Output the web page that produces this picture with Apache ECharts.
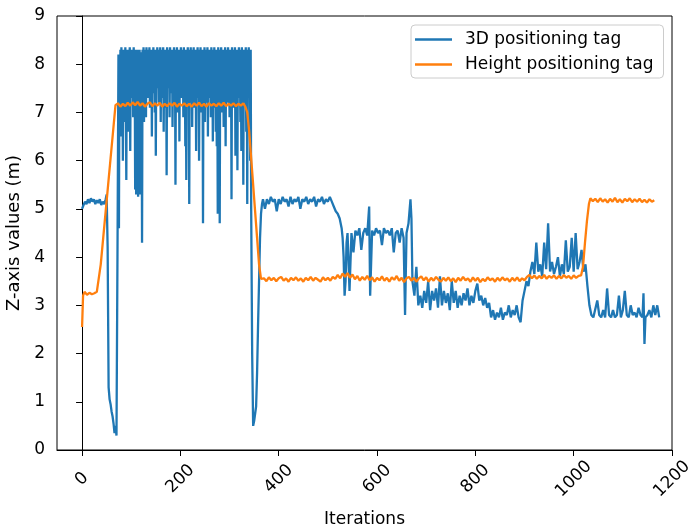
<!DOCTYPE html>
<html>
<head>
<meta charset="utf-8">
<script src="https://cdn.jsdelivr.net/npm/echarts@6/dist/echarts.min.js"></script>
<style>
  html, body { margin: 0; padding: 0; background: #fff; }
  #chart { width: 689px; height: 526px; }
</style>
</head>
<body>
<div id="chart"></div>
<script>
// series names
const seriesNames = ["3D positioning tag", "Height positioning tag"];

// x tick labels
const xTicks = [0, 200, 400, 600, 800, 1000, 1200];

// 3D positioning tag: [iteration, z]
const tag3d = [
  [0,5.0],[3,5.08],[6,5.15],[9,5.1],[12,5.2],[15,5.12],[18,5.22],[21,5.15],[24,5.2],[27,5.1],
  [30,5.18],[33,5.12],[36,5.2],[39,5.08],[42,5.15],[45,5.1],[48,5.2],[50,5.3],[52,4.2],[54,1.3],
  [56,1.05],[58,0.95],[60,0.8],[62,0.7],[64,0.55],[66,0.35],[68,0.5],[70,0.3],[72,4.0],[74,8.2],
  [75,4.6],[76,8.2],[77,7.0],[78,8.3],[79,6.5],[80,8.35],[81,7.6],[82,8.2],[83,6.0],[84,8.3],
  [85,7.4],[86,8.25],[87,6.8],[88,8.35],[89,7.2],[90,5.6],[91,8.3],[92,7.5],[93,8.2],[94,6.6],
  [95,8.3],[96,7.8],[97,8.35],[98,6.2],[99,8.3],[100,7.3],[101,8.25],[102,7.9],[103,8.3],[104,6.9],
  [105,8.35],[106,7.5],[107,8.2],[108,5.4],[109,8.3],[110,5.3],[111,8.1],[112,5.5],[113,8.3],[114,5.25],
  [115,7.9],[116,5.4],[117,8.3],[118,5.3],[119,7.8],[120,5.6],[121,8.25],[122,4.3],[123,8.3],[124,7.2],
  [125,8.35],[126,6.8],[127,8.2],[128,7.5],[129,8.3],[130,6.9],[131,8.35],[132,7.7],[133,8.25],[134,7.3],
  [135,8.3],[136,7.9],[137,8.35],[138,7.1],[139,8.3],[140,7.6],[141,8.2],[142,6.5],[143,8.3],[144,7.4],
  [145,8.35],[146,7.8],[147,8.25],[148,7.0],[149,8.3],[150,6.1],[151,8.3],[152,7.5],[153,8.35],[154,7.8],
  [155,8.2],[156,7.2],[157,8.3],[158,7.6],[159,8.35],[160,6.8],[161,8.25],[162,7.9],[163,8.3],[164,7.3],
  [165,8.35],[166,6.6],[167,8.2],[168,7.7],[169,8.3],[170,7.1],[171,8.3],[172,5.7],[173,8.35],[174,7.5],
  [175,8.25],[176,7.9],[177,8.3],[178,6.9],[179,8.35],[180,7.4],[181,8.2],[182,7.8],[183,8.3],[184,6.7],
  [185,8.3],[186,7.6],[187,8.35],[188,7.2],[189,8.25],[190,5.5],[191,8.3],[192,7.8],[193,8.35],[194,7.0],
  [195,8.2],[196,7.5],[197,8.3],[198,6.4],[199,8.3],[200,7.7],[201,8.35],[202,7.3],[203,8.25],[204,7.9],
  [205,8.3],[206,6.9],[207,8.35],[208,7.5],[209,8.2],[210,6.3],[211,8.3],[212,5.6],[213,8.3],[214,7.4],
  [215,8.35],[216,7.8],[217,8.2],[218,5.1],[219,8.3],[220,7.2],[221,8.35],[222,7.6],[223,8.25],[224,6.7],
  [225,8.3],[226,7.9],[227,8.35],[228,7.1],[229,8.2],[230,7.5],[231,8.3],[232,6.2],[233,8.3],[234,7.7],
  [235,8.35],[236,7.3],[237,8.25],[238,6.0],[239,8.3],[240,7.6],[241,8.35],[242,7.0],[243,8.2],[244,7.8],
  [245,8.3],[246,4.7],[247,8.3],[248,7.4],[249,8.35],[250,6.8],[251,8.25],[252,7.7],[253,8.3],[254,7.2],
  [255,8.35],[256,6.5],[257,8.2],[258,7.9],[259,8.3],[260,7.3],[261,8.3],[262,6.9],[263,8.35],[264,7.6],
  [265,8.25],[266,6.4],[267,8.3],[268,7.8],[269,8.35],[270,7.1],[271,8.2],[272,6.6],[273,8.3],[274,6.3],
  [275,8.3],[276,4.9],[277,8.35],[278,7.4],[279,8.25],[280,4.7],[281,8.3],[282,7.7],[283,8.35],[284,7.0],
  [285,8.2],[286,7.8],[287,8.3],[288,6.7],[289,8.3],[290,7.5],[291,8.35],[292,6.3],[293,8.25],[294,7.9],
  [295,8.3],[296,7.2],[297,8.35],[298,7.6],[299,8.2],[300,6.9],[301,8.3],[302,7.4],[303,8.3],[304,5.2],
  [305,8.35],[306,7.8],[307,8.25],[308,7.1],[309,8.3],[310,7.5],[311,8.35],[312,6.1],[313,8.2],[314,7.7],
  [315,8.3],[316,5.8],[317,8.3],[318,7.3],[319,8.35],[320,7.9],[321,8.25],[322,6.8],[323,8.3],[324,6.2],
  [325,8.35],[326,7.6],[327,8.2],[328,5.5],[329,8.3],[330,7.2],[331,8.3],[332,7.8],[333,8.35],[334,6.6],
  [335,8.25],[336,5.1],[337,8.3],[338,7.5],[339,8.35],[340,7.9],[341,8.2],[342,6.0],[343,8.3],[344,5.0],
  [346,2.0],[348,0.5],[350,0.6],[352,0.75],[354,0.9],[356,1.6],[358,2.6],[360,3.5],[362,4.4],[364,4.9],
  [366,5.1],
  [368,5.2],[372,5.0],[376,5.2],[380,5.1],[384,5.25],[388,5.15],[392,5.2],[396,4.95],[400,5.2],[404,5.1],
  [408,5.25],[412,5.15],[416,5.2],[420,5.05],[424,5.25],[428,5.1],[432,5.2],[436,5.15],[440,5.25],[444,5.0],
  [448,5.2],[452,5.15],[456,5.25],[460,5.1],[464,5.2],[468,5.15],[472,5.25],[476,5.05],[480,5.2],[484,5.15],
  [488,5.25],[492,5.1],[496,5.2],[500,5.15],[504,5.25],[508,5.15],[512,5.05],[516,4.95],[520,4.9],[524,4.8],
  [528,4.6],[530,4.4],[532,4.0],[534,3.2],[536,3.5],[538,4.3],[540,4.5],[544,3.3],[548,4.5],[552,4.1],
  [556,4.55],[560,4.45],[564,4.6],[568,4.15],[572,4.5],[576,4.6],[580,4.45],[584,5.05],[586,3.2],[590,4.55],
  [594,4.45],[598,4.6],[602,4.5],[606,4.55],[610,4.25],[614,4.6],[618,4.5],[622,4.55],[626,4.45],[630,4.6],
  [634,4.1],[638,4.5],[642,4.55],[646,4.3],[650,4.6],[654,4.4],[657,2.8],[660,4.5],[664,4.7],[668,5.2],
  [670,4.8],[672,3.5],[676,3.2],[680,3.8],[684,3.0],[688,3.2],[692,2.95],[696,3.3],[700,3.05],[704,3.5],
  [708,2.9],[712,3.3],[716,3.1],[720,3.35],[724,2.95],[728,3.6],[732,3.0],[736,3.3],[740,3.05],[744,3.25],
  [748,2.9],[752,3.5],[756,3.05],[760,3.3],[764,2.95],[768,3.2],[772,3.0],[776,3.25],[780,3.1],[784,3.35],
  [788,3.0],[792,3.2],[796,3.05],[800,3.3],[804,3.45],[808,3.1],[812,3.2],[816,3.0],[820,3.15],[824,2.95],
  [828,3.05],[832,2.75],[836,2.9],[840,2.7],[844,2.85],[848,2.75],[852,2.95],[856,2.7],[860,2.85],[864,2.8],
  [868,3.0],[872,2.75],[876,2.9],[880,2.8],[884,3.0],[888,2.75],[892,2.65],[896,3.1],[900,3.3],[904,3.5],
  [908,3.4],[912,3.7],[916,3.9],[920,3.65],[924,4.3],[928,3.7],[932,3.85],[936,3.6],[940,4.3],[944,3.75],
  [948,4.7],[952,3.7],[956,3.9],[960,3.65],[964,3.8],[968,4.0],[972,3.6],[976,3.85],[980,3.65],[984,4.35],
  [988,3.7],[992,3.8],[996,4.4],[1000,3.7],[1004,4.5],[1008,3.75],[1012,3.9],[1016,4.15],[1020,3.7],[1024,3.85],
  [1028,3.4],[1032,3.0],[1036,2.8],[1040,2.75],[1044,2.75],[1048,3.1],[1052,2.8],[1056,2.75],[1060,2.9],[1064,2.75],
  [1068,3.35],[1072,2.8],[1076,2.75],[1080,2.9],[1084,2.75],[1088,2.8],[1092,3.2],[1096,2.75],[1100,2.9],[1104,3.3],
  [1108,2.8],[1112,2.75],[1116,3.0],[1120,2.8],[1124,2.85],[1128,2.75],[1132,2.95],[1136,2.8],[1140,2.75],[1142,3.25],
  [1144,2.2],[1146,2.75],[1150,2.8],[1154,2.9],[1158,2.75],[1162,3.0],[1166,2.8],[1170,3.0],[1174,2.75]
];

// Height positioning tag: [iteration, z]
const tagHeight = [
  [0,2.55],[2,3.2],[5,3.28],[10,3.22],[15,3.26],[20,3.23],[25,3.25],[30,3.28],[33,3.3],[38,3.85],
  [43,4.4],[48,4.95],[53,5.5],[58,6.05],[63,6.6],[68,7.15],
  [73,7.19],[78,7.12],[83,7.18],[88,7.13],[93,7.2],[98,7.14],[103,7.21],[108,7.15],[113,7.22],[118,7.14],
  [123,7.19],[128,7.12],[133,7.18],[138,7.21],[143,7.13],[148,7.19],[153,7.14],[158,7.2],[163,7.12],[168,7.18],
  [173,7.13],[178,7.19],[183,7.14],[188,7.2],[193,7.12],[198,7.18],[203,7.14],[208,7.19],[213,7.13],[218,7.18],
  [223,7.12],[228,7.19],[233,7.14],[238,7.2],[243,7.13],[248,7.18],[253,7.12],[258,7.19],[263,7.14],[268,7.18],
  [273,7.13],[278,7.19],[283,7.14],[288,7.2],[293,7.13],[298,7.18],[303,7.14],[308,7.19],[313,7.13],[318,7.18],
  [323,7.14],[328,7.19],[332,7.12],[336,7.0],[340,6.6],[344,6.05],[348,5.5],[352,4.95],[356,4.4],[360,3.85],
  [364,3.55],
  [370,3.56],[375,3.5],[380,3.58],[385,3.52],[390,3.57],[395,3.5],[400,3.56],[405,3.59],[410,3.51],[415,3.56],
  [420,3.49],[425,3.57],[430,3.52],[435,3.58],[440,3.51],[445,3.56],[450,3.49],[455,3.57],[460,3.52],[465,3.59],
  [470,3.51],[475,3.57],[480,3.53],[485,3.49],[490,3.58],[495,3.52],[500,3.57],[505,3.51],[510,3.59],[515,3.55],
  [520,3.63],[525,3.56],[530,3.66],[535,3.59],[540,3.67],[545,3.57],[550,3.64],[555,3.54],[560,3.61],[565,3.51],
  [570,3.59],[575,3.53],[580,3.61],[585,3.52],[590,3.58],[595,3.49],[600,3.57],[605,3.52],[610,3.6],[615,3.51],
  [620,3.57],[625,3.49],[630,3.58],[635,3.53],[640,3.61],[645,3.51],[650,3.57],[655,3.48],[660,3.56],[665,3.59],
  [670,3.51],[675,3.57],[680,3.49],[685,3.56],[690,3.6],[695,3.52],[700,3.58],[705,3.49],[710,3.57],[715,3.51],
  [720,3.59],[725,3.53],[730,3.49],[735,3.57],[740,3.51],[745,3.58],[750,3.5],[755,3.56],[760,3.48],[765,3.57],
  [770,3.51],[775,3.59],[780,3.52],[785,3.56],[790,3.49],[795,3.58],[800,3.51],[805,3.57],[810,3.48],[815,3.55],
  [820,3.5],[825,3.58],[830,3.52],[835,3.56],[840,3.49],[845,3.57],[850,3.51],[855,3.58],[860,3.52],[865,3.56],
  [870,3.49],[875,3.57],[880,3.51],[885,3.58],[890,3.5],[895,3.56],[900,3.52],[905,3.59],[910,3.63],[915,3.56],
  [920,3.62],[925,3.55],[930,3.61],[935,3.56],[940,3.63],[945,3.55],[950,3.61],[955,3.57],[960,3.62],[965,3.55],
  [970,3.61],[975,3.56],[980,3.63],[985,3.57],[990,3.61],[995,3.55],[1000,3.62],[1005,3.57],[1010,3.61],[1015,3.62],
  [1019,3.8],[1023,4.3],[1027,4.75],[1031,5.1],[1034,5.22],
  [1039,5.16],[1044,5.21],[1049,5.14],[1054,5.22],[1059,5.15],[1064,5.2],[1069,5.13],[1074,5.21],[1079,5.15],[1084,5.23],
  [1089,5.14],[1094,5.2],[1099,5.13],[1104,5.21],[1109,5.16],[1114,5.22],[1119,5.14],[1124,5.2],[1129,5.15],[1134,5.21],
  [1139,5.14],[1144,5.19],[1149,5.13],[1154,5.2],[1159,5.15],[1164,5.18]
];

const FONT = "DejaVu Sans";

var chartDom = document.getElementById("chart");
var myChart = echarts.init(chartDom, null, { renderer: "canvas" });

var option = {
  animation: false,
  backgroundColor: "#fff",
  textStyle: { fontFamily: FONT },
  grid: {
    left: 57, right: 17, top: 16, bottom: 76,
    show: true, borderColor: "#000", borderWidth: 1,
    containLabel: false, outerBoundsMode: "none"
  },
  legend: {
    data: seriesNames,
    orient: "vertical",
    left: 411, top: 25,
    padding: [6, 10, 5, 4],
    itemGap: 8,
    itemWidth: 37, itemHeight: 2.5,
    icon: "rect",
    backgroundColor: "rgba(255,255,255,0.8)",
    borderColor: "#cccccc", borderWidth: 1, borderRadius: 4,
    textStyle: { fontFamily: FONT, fontSize: 17, color: "#000", padding: [0, 0, 0, 8] }
  },
  xAxis: {
    type: "value",
    min: -51, max: 1200,
    name: "Iterations",
    nameLocation: "middle",
    nameGap: 61,
    nameTextStyle: { fontFamily: FONT, fontSize: 17, color: "#000" },
    axisLine: { show: true, onZero: false, lineStyle: { color: "#000", width: 1 } },
    axisTick: { show: true, length: 6, lineStyle: { color: "#000" }, customValues: xTicks },
    axisLabel: {
      customValues: xTicks,
      formatter: function (v) { return String(v); },
      rotate: 45, align: "center", verticalAlign: "middle",
      margin: 29, fontFamily: FONT, fontSize: 17, color: "#000"
    },
    splitLine: { show: false }
  },
  yAxis: {
    type: "value",
    min: 0, max: 9, interval: 1,
    name: "Z-axis values (m)",
    nameLocation: "middle",
    nameRotate: 90,
    nameGap: 27,
    nameTextStyle: { fontFamily: FONT, fontSize: 18, color: "#000" },
    axisLine: { show: true, lineStyle: { color: "#000", width: 1 } },
    axisTick: { show: true, length: 6, lineStyle: { color: "#000" } },
    axisLabel: { margin: 12, fontFamily: FONT, fontSize: 17, color: "#000" },
    splitLine: { show: false }
  },
  series: [
    {
      name: seriesNames[0],
      type: "line",
      data: tag3d,
      showSymbol: false, symbol: "none",
      sampling: null,
      lineStyle: { color: "#1f77b4", width: 2.3 },
      itemStyle: { color: "#1f77b4" },
      z: 2
    },
    {
      name: seriesNames[1],
      type: "line",
      data: tagHeight,
      showSymbol: false, symbol: "none",
      lineStyle: { color: "#ff7f0e", width: 2.3 },
      itemStyle: { color: "#ff7f0e" },
      z: 3
    }
  ]
};

option && myChart.setOption(option);
</script>
</body>
</html>
